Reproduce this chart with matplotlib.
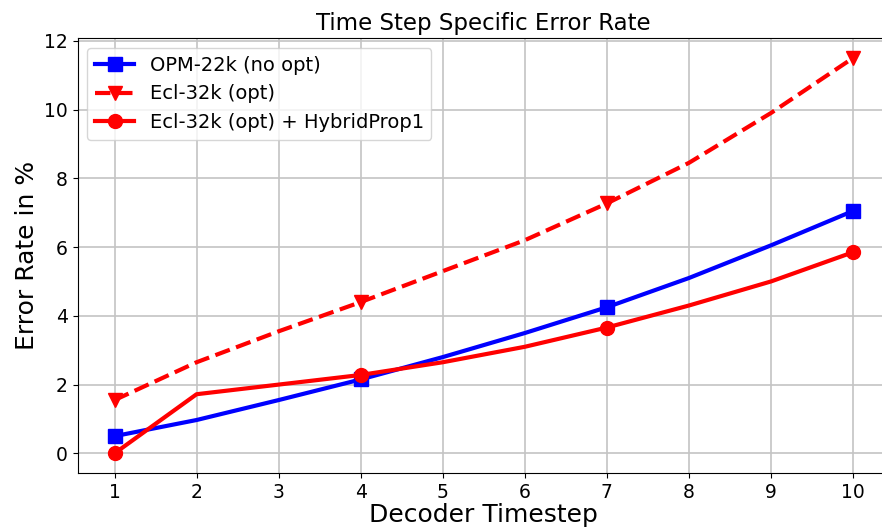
import matplotlib
matplotlib.use("Agg")
import matplotlib.pyplot as plt

timesteps = [1, 2, 3, 4, 5, 6, 7, 8, 9, 10]
opm_no_opt = [0.5, 0.97, 1.55, 2.15, 2.8, 3.5, 4.25, 5.1, 6.05, 7.05]
ecl_opt = [1.55, 2.65, 3.55, 4.4, 5.3, 6.2, 7.27, 8.45, 9.9, 11.5]
ecl_opt_hybrid = [0.0, 1.72, 2.0, 2.28, 2.65, 3.1, 3.66, 4.3, 5.0, 5.85]

fig = plt.figure(figsize=(8.82, 5.31), dpi=100)
ax = fig.add_axes([0.088, 0.109, 0.921, 0.819])

ax.plot(timesteps, opm_no_opt, color='blue', marker='s', markevery=3,
        linewidth=3, markersize=10, label="OPM-22k (no opt)")
ax.plot(timesteps, ecl_opt, color='red', linestyle='--', marker='v', markevery=3,
        linewidth=3, markersize=10, label="Ecl-32k (opt)")
ax.plot(timesteps, ecl_opt_hybrid, color='red', marker='o', markevery=3,
        linewidth=3, markersize=10, label="Ecl-32k (opt) + HybridProp1")

ax.set_xlim(0.55, 10.45)
ax.set_ylim(-0.575, 12.075)
ax.set_xticks(timesteps)
ax.set_yticks([0, 2, 4, 6, 8, 10, 12])
ax.tick_params(labelsize=13.5)
ax.grid(True, color='#c4c4c4', linewidth=1.2)
ax.set_axisbelow(True)
ax.spines['right'].set_visible(False)

ax.set_title("Time Step Specific Error Rate", fontsize=16.5)
ax.set_xlabel("Decoder Timestep", fontsize=18, labelpad=1)
ax.set_ylabel("Error Rate in %", fontsize=18)
ax.legend(loc='upper left', fontsize=14)

fig.savefig("out.png", dpi=100)
